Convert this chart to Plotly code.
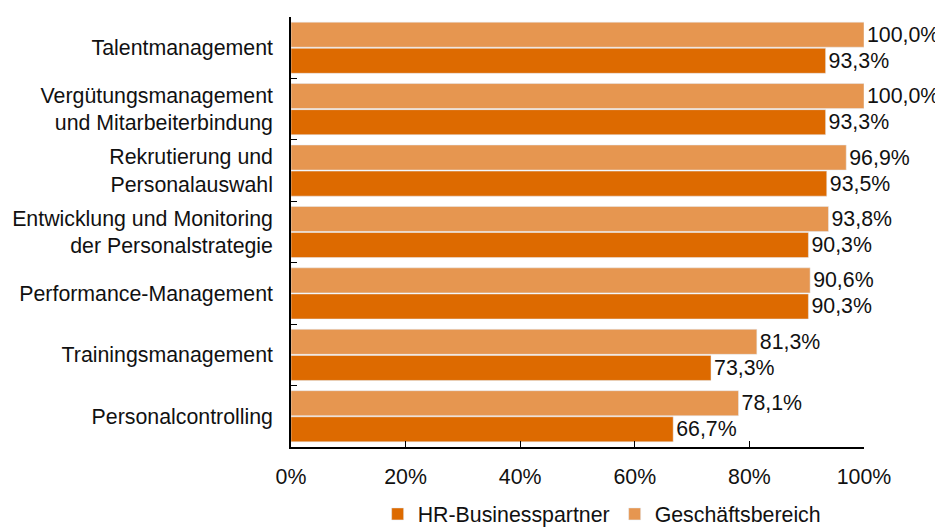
import plotly.graph_objects as go

categories = [
    "Personalcontrolling",
    "Trainingsmanagement",
    "Performance-Management",
    "Entwicklung und Monitoring<br>der Personalstrategie",
    "Rekrutierung und<br>Personalauswahl",
    "Vergütungsmanagement<br>und Mitarbeiterbindung",
    "Talentmanagement",
]
hr_values = [66.7, 73.3, 90.3, 90.3, 93.5, 93.3, 93.3]
gb_values = [78.1, 81.3, 90.6, 93.8, 96.9, 100.0, 100.0]
tick_vals = [0, 20, 40, 60, 80, 100]
tick_text = ["0%", "20%", "40%", "60%", "80%", "100%"]


def fmt(v):
    return f"{v:.1f}%".replace(".", ",")


FONT = "Liberation Sans, Arial, sans-serif"
FS = 21.33
fig = go.Figure()
fig.add_trace(go.Bar(
    y=categories, x=hr_values, orientation="h", name="HR-Businesspartner",
    marker=dict(color="#DD6A00"), text=[fmt(v) for v in hr_values],
    textposition="outside", cliponaxis=False, constraintext="none",
    textfont=dict(size=FS, color="#111111", family=FONT),
))
fig.add_trace(go.Bar(
    y=categories, x=gb_values, orientation="h", name="Geschäftsbereich",
    marker=dict(color="#E69650"), text=[fmt(v) for v in gb_values],
    textposition="outside", cliponaxis=False, constraintext="none",
    textfont=dict(size=FS, color="#111111", family=FONT),
))

fig.update_layout(
    width=943, height=531,
    margin=dict(l=283, r=87, t=9, b=92),
    paper_bgcolor="white", plot_bgcolor="white",
    barmode="group", bargap=0.15, bargroupgap=0.04,
    font=dict(family=FONT, size=FS, color="#111111"),
    showlegend=True,
    legend=dict(orientation="h", x=0.543, xanchor="center",
                yref="container", y=0.047, yanchor="middle",
                font=dict(size=FS), traceorder="normal", itemwidth=30),
    xaxis=dict(range=[0, 100], tickvals=tick_vals, ticktext=tick_text,
               automargin=False,
               showgrid=False, zeroline=False, showline=True, linecolor="black",
               linewidth=1.5, ticks="inside", ticklen=6, tickcolor="black",
               ticklabelstandoff=10),
    yaxis=dict(automargin=False,
               showgrid=False, zeroline=False, showline=True, linecolor="black",
               linewidth=1.5, ticks="inside", ticklen=6, tickcolor="black",
               tickson="boundaries", ticklabelstandoff=12),
)

fig.write_html("out.html")
